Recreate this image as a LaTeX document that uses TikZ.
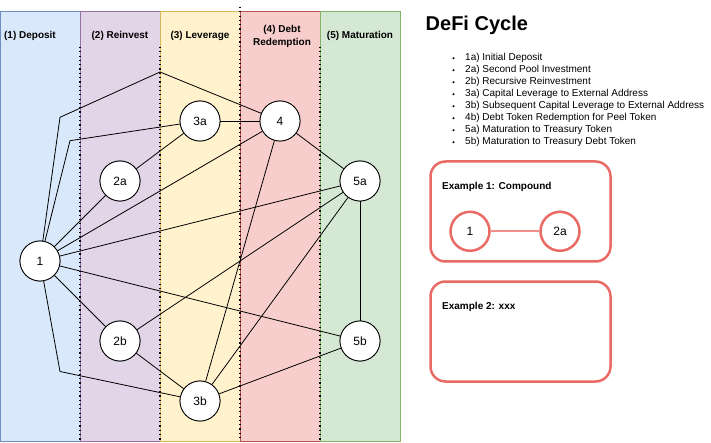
\documentclass[tikz,border=0pt]{standalone}
\usepackage{fontspec}
\setmainfont{Liberation Sans}
\definecolor{fillA}{HTML}{DAE8FC}\definecolor{lineA}{HTML}{6C8EBF}
\definecolor{fillB}{HTML}{E1D5E7}\definecolor{lineB}{HTML}{9673A6}
\definecolor{fillC}{HTML}{FFF2CC}\definecolor{lineC}{HTML}{D6B656}
\definecolor{fillD}{HTML}{F8CECC}\definecolor{lineD}{HTML}{B85450}
\definecolor{fillE}{HTML}{D5E8D4}\definecolor{lineE}{HTML}{82B366}
\definecolor{exred}{HTML}{EA6B66}
\tikzset{
  lane/.style={line width=1pt},
  sep/.style={line width=1.3pt, dash pattern=on 1.2pt off 3.1pt, black},
  hdr/.style={font=\fontsize{10}{12}\selectfont\bfseries, align=center, inner sep=0pt},
  stepnode/.style={circle, draw=black, fill=white, line width=0.8pt, minimum size=40pt, inner sep=0pt, font=\fontsize{12}{14}\selectfont},
  link/.style={draw=black, line width=0.8pt},
  item/.style={anchor=west, inner sep=0pt, font=\fontsize{10}{12}\selectfont},
  exbox/.style={draw=exred, line width=2.5pt, rounded corners=15pt, fill=white},
  exnode/.style={circle, draw=exred, fill=white, line width=2.5pt, minimum size=39pt, inner sep=0pt, font=\fontsize{12}{14}\selectfont},
  extitle/.style={anchor=west, inner sep=0pt, font=\fontsize{10}{12}\selectfont\bfseries},
}
\begin{document}
\begin{tikzpicture}[x=1pt,y=-1pt]
\useasboundingbox (0,0) rectangle (711,443);
\fill[white] (0,0) rectangle (711,443);
% lanes
\draw[lane, fill=fillA, draw=lineA] (0.5,12) rectangle (80,441.5);
\draw[lane, fill=fillB, draw=lineB] (80,12) rectangle (160,441.5);
\draw[lane, fill=fillC, draw=lineC] (160,12) rectangle (240,441.5);
\draw[lane, fill=fillD, draw=lineD] (240,12) rectangle (320,441.5);
\draw[lane, fill=fillE, draw=lineE] (320,12) rectangle (400,441.5);
% dotted separators
\draw[sep] (80,47) -- (80,441);
\draw[sep] (160,47) -- (160,441);
\draw[sep] (240,7) -- (240,441);
\draw[sep] (320,47) -- (320,441);
% headers
\node[hdr] (h1) at (30,36) {(1) Deposit};
\node[hdr] (h2) at (120,36) {(2) Reinvest};
\node[hdr] (h3) at (200,36) {(3) Leverage};
\node[hdr] (h4) at (282,36.5) {(4) Debt\\[1.5pt]Redemption};
\node[hdr] (h5) at (360,36) {(5) Maturation};
% nodes
\node[stepnode] (n1) at (40,261) {1};
\node[stepnode] (n2a) at (120,181) {2a};
\node[stepnode] (n3a) at (200,121) {3a};
\node[stepnode] (n4) at (280,121) {4};
\node[stepnode] (n5a) at (360,181) {5a};
\node[stepnode] (n2b) at (120,341) {2b};
\node[stepnode] (n3b) at (200,401) {3b};
\node[stepnode] (n5b) at (360,341) {5b};
% waypoints
\coordinate (w1) at (60,117.3);
\coordinate (w2) at (160,72);
\coordinate (w3) at (70,140.7);
\coordinate (w4) at (60,371.5);
% edges
\draw[link] (n1) -- (w1) -- (w2) -- (n4);
\draw[link] (n1) -- (w3) -- (n3a);
\draw[link] (n1) -- (w4) -- (n3b);
\draw[link] (n1) -- (n2a);
\draw[link] (n2a) -- (n3a);
\draw[link] (n1) -- (n4);
\draw[link] (n1) -- (n5a);
\draw[link] (n1) -- (n5b);
\draw[link] (n1) -- (n2b);
\draw[link] (n3a) -- (n4);
\draw[link] (n4) -- (n5a);
\draw[link] (n4) -- (n3b);
\draw[link] (n5a) -- (n2b);
\draw[link] (n5a) -- (n3b);
\draw[link] (n5a) -- (n5b);
\draw[link] (n2b) -- (n3b);
\draw[link] (n3b) -- (n5b);
% redraw nodes on top
\node[stepnode] at (n1) {1};
\node[stepnode] at (n2a) {2a};
\node[stepnode] at (n3a) {3a};
\node[stepnode] at (n4) {4};
\node[stepnode] at (n5a) {5a};
\node[stepnode] at (n2b) {2b};
\node[stepnode] at (n3b) {3b};
\node[stepnode] at (n5b) {5b};
% legend
\node[anchor=west, inner sep=0pt, font=\fontsize{20}{24}\selectfont\bfseries] (title) at (425.5,25) {DeFi Cycle};
\foreach \t [count=\i from 0] in {1a) Initial Deposit, 2a) Second Pool Investment, 2b) Recursive Reinvestment, 3a) Capital Leverage to External Address, 3b) Subsequent Capital Leverage to External Address, 4b) Debt Token Redemption for Peel Token, 5a) Maturation to Treasury Token, 5b) Maturation to Treasury Debt Token}{
  \fill (453.5,58.3+12*\i) circle (1.1pt);
  \node[item] (li\i) at (465,58.3+12*\i) {\t};
}
% examples
\draw[exbox] (430.5,161.5) rectangle (610.5,261.5);
\node[extitle] (ex1) at (442,187.3) {Example 1: Compound};
\node[exnode] (e1) at (470,231.3) {1};
\node[exnode] (e2) at (560,231.3) {2a};
\draw[draw=exred!75, line width=2pt] (e1) -- (e2);
\draw[exbox] (430.5,281.5) rectangle (610.5,381.5);
\node[extitle] (ex2) at (442,307.3) {Example 2: xxx};
\end{tikzpicture}
\end{document}
